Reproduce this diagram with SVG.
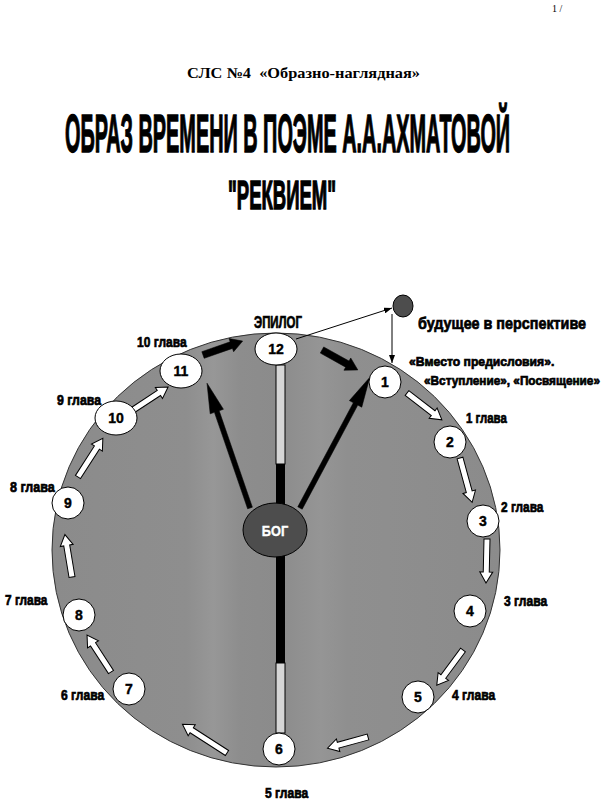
<svg xmlns="http://www.w3.org/2000/svg" width="604" height="804" viewBox="0 0 604 804">
<style>
.lbl{font-family:"Liberation Sans",Arial,sans-serif;font-weight:bold;fill:#000;stroke:#000;stroke-width:0.7}
.ttl{font-family:"Liberation Sans",Arial,sans-serif;font-weight:bold;fill:#000;stroke:#000;stroke-width:1.4}
.num{font-family:"Liberation Sans",Arial,sans-serif;font-weight:bold;font-size:14px;fill:#000;text-anchor:middle;stroke:#000;stroke-width:0.4}
.node{fill:#fff;stroke:#000;stroke-width:1}
.warr{fill:#fff;stroke:#000;stroke-width:1;stroke-linejoin:miter}
.barr{fill:#000;stroke:#000;stroke-width:0.5}
.thin{stroke:#000;stroke-width:1;fill:none}
</style>
<defs>
<linearGradient id="face" gradientUnits="userSpaceOnUse" x1="52" y1="0" x2="500" y2="0">
<stop offset="0" stop-color="#8b8b8b"/>
<stop offset="0.3" stop-color="#8e8e8e"/>
<stop offset="0.36" stop-color="#979797"/>
<stop offset="0.42" stop-color="#8d8d8d"/>
<stop offset="0.5" stop-color="#8b8b8b"/>
<stop offset="0.6" stop-color="#959595"/>
<stop offset="0.66" stop-color="#8f8f8f"/>
<stop offset="1" stop-color="#8b8b8b"/>
</linearGradient>
<marker id="ah" markerWidth="8" markerHeight="6" refX="8" refY="3" orient="auto" markerUnits="userSpaceOnUse">
<path d="M0,0 L8,3 L0,6 Z" fill="#000"/>
</marker>
</defs>
<rect x="0" y="0" width="604" height="804" fill="#fff"/>

<g id="header">
<text x="552" y="12" font-family="Liberation Serif,serif" font-size="10">1 /</text>
<text x="187" y="78" font-family="Liberation Serif,serif" font-weight="bold" font-size="15" textLength="233" lengthAdjust="spacingAndGlyphs" xml:space="preserve">СЛС №4  «Образно-наглядная»</text>
<text class="ttl" transform="translate(65,152) scale(0.37,1)" x="0" y="0" font-size="54" textLength="1203" lengthAdjust="spacingAndGlyphs">ОБРАЗ ВРЕМЕНИ В ПОЭМЕ А.А.АХМАТОВОЙ</text>
<text class="ttl" transform="translate(228,209) scale(0.45,1)" x="0" y="0" font-size="40" textLength="240" lengthAdjust="spacingAndGlyphs">"РЕКВИЕМ"</text>
</g>

<g id="clock-face">
<ellipse cx="276" cy="550" rx="224" ry="217" fill="url(#face)" stroke="#333" stroke-width="1"/>
</g>

<g id="connectors">
<rect x="276" y="365" width="9" height="99" fill="#d6d6d6" stroke="#000" stroke-width="1"/>
<rect x="276" y="464" width="9" height="199" fill="#000"/>
<rect x="276" y="663" width="9" height="70" fill="#d6d6d6" stroke="#000" stroke-width="1"/>
<path class="barr" transform="translate(250,508) rotate(-109)" d="M0,-2.5 L102,-2.5 L102,-7 L132,0 L102,7 L102,2.5 L0,2.5 Z"/>
<path class="barr" transform="translate(300,508) rotate(-61.9)" d="M0,-2.5 L118,-2.5 L118,-7 L148,0 L118,7 L118,2.5 L0,2.5 Z"/>
<path class="barr" transform="translate(203,355) rotate(-19.3)" d="M0,-3.5 L30,-3.5 L30,-7 L42,0 L30,7 L30,3.5 L0,3.5 Z"/>
<path class="barr" transform="translate(322,350) rotate(29.1)" d="M0,-3.5 L29,-3.5 L29,-7 L41,0 L29,7 L29,3.5 L0,3.5 Z"/>
<path class="warr" transform="translate(407,393) rotate(37.6)" d="M0,-3 L33,-3 L33,-6.5 L44,0 L33,6.5 L33,3 L0,3 Z"/>
<path class="warr" transform="translate(460,458) rotate(74.7)" d="M0,-3 L35,-3 L35,-6.5 L46,0 L35,6.5 L35,3 L0,3 Z"/>
<path class="warr" transform="translate(487,539) rotate(91.3)" d="M0,-3 L33,-3 L33,-6.5 L44,0 L33,6.5 L33,3 L0,3 Z"/>
<path class="warr" transform="translate(463,650) rotate(126.6)" d="M0,-3 L33,-3 L33,-6.5 L44,0 L33,6.5 L33,3 L0,3 Z"/>
<path class="warr" transform="translate(368,737) rotate(164.6)" d="M0,-3 L31,-3 L31,-6.5 L42,0 L31,6.5 L31,3 L0,3 Z"/>
<path class="warr" transform="translate(227,753) rotate(212.8)" d="M0,-3 L42,-3 L42,-6.5 L53,0 L42,6.5 L42,3 L0,3 Z"/>
<path class="warr" transform="translate(111,672) rotate(237)" d="M0,-3 L33,-3 L33,-6.5 L44,0 L33,6.5 L33,3 L0,3 Z"/>
<path class="warr" transform="translate(72,577) rotate(260.5)" d="M0,-3 L32,-3 L32,-6.5 L43,0 L32,6.5 L32,3 L0,3 Z"/>
<path class="warr" transform="translate(78,477) rotate(-57.3)" d="M0,-3 L35,-3 L35,-6.5 L46,0 L35,6.5 L35,3 L0,3 Z"/>
<path class="warr" transform="translate(133,410) rotate(-33.3)" d="M0,-3 L31,-3 L31,-6.5 L42,0 L31,6.5 L31,3 L0,3 Z"/>
<line class="thin" x1="296" y1="339" x2="392" y2="308" marker-end="url(#ah)"/>
<line class="thin" x1="392" y1="314" x2="392" y2="363" marker-end="url(#ah)"/>
</g>

<g id="node-bog">
<ellipse cx="275" cy="530" rx="32" ry="27" fill="#4d4d4d" stroke="#000" stroke-width="1"/>
<text transform="translate(275,536) scale(0.85,1)" x="0" y="0" font-family="Liberation Sans,sans-serif" font-weight="bold" font-size="15" fill="#fff" stroke="#fff" stroke-width="0.4" text-anchor="middle">БОГ</text>
</g>

<g id="node-future">
<ellipse cx="403" cy="306" rx="10" ry="11" fill="#4d4d4d" stroke="#000" stroke-width="1"/>
<text class="lbl" transform="translate(418,329) scale(0.8,1)" x="0" y="0" font-size="17" textLength="210" lengthAdjust="spacingAndGlyphs">будущее в перспективе</text>
</g>

<g id="node-12">
<ellipse class="node" cx="276" cy="349" rx="21" ry="16"/>
<text class="num" x="276" y="354">12</text>
<text class="lbl" transform="translate(254,328) scale(0.75,1)" x="0" y="0" font-size="17" textLength="64" lengthAdjust="spacingAndGlyphs">ЭПИЛОГ</text>
</g>
<g id="node-1">
<circle class="node" cx="385" cy="382" r="16"/>
<text class="num" x="385" y="387">1</text>
<text class="lbl" transform="translate(409,366) scale(0.85,1)" x="0" y="0" font-size="13" textLength="171" lengthAdjust="spacingAndGlyphs">«Вместо предисловия».</text>
<text class="lbl" transform="translate(424,385) scale(0.85,1)" x="0" y="0" font-size="13" textLength="207" lengthAdjust="spacingAndGlyphs">«Вступление», «Посвящение»</text>
</g>
<g id="node-2">
<circle class="node" cx="450" cy="442" r="16"/>
<text class="num" x="450" y="447">2</text>
<text class="lbl" transform="translate(466,423) scale(0.8,1)" x="0" y="0" font-size="15" textLength="51" lengthAdjust="spacingAndGlyphs">1 глава</text>
</g>
<g id="node-3">
<circle class="node" cx="483" cy="521" r="16"/>
<text class="num" x="483" y="526">3</text>
<text class="lbl" transform="translate(501,512) scale(0.8,1)" x="0" y="0" font-size="15" textLength="53" lengthAdjust="spacingAndGlyphs">2 глава</text>
</g>
<g id="node-4">
<circle class="node" cx="470" cy="611" r="16"/>
<text class="num" x="470" y="616">4</text>
<text class="lbl" transform="translate(504,606) scale(0.8,1)" x="0" y="0" font-size="15" textLength="54" lengthAdjust="spacingAndGlyphs">3 глава</text>
</g>
<g id="node-5">
<circle class="node" cx="418" cy="697" r="16"/>
<text class="num" x="418" y="702">5</text>
<text class="lbl" transform="translate(452,700) scale(0.8,1)" x="0" y="0" font-size="15" textLength="54" lengthAdjust="spacingAndGlyphs">4 глава</text>
</g>
<g id="node-6">
<circle class="node" cx="279" cy="749" r="16"/>
<text class="num" x="279" y="754">6</text>
<text class="lbl" transform="translate(265,798) scale(0.8,1)" x="0" y="0" font-size="15" textLength="54" lengthAdjust="spacingAndGlyphs">5 глава</text>
</g>
<g id="node-7">
<circle class="node" cx="129" cy="689" r="16"/>
<text class="num" x="129" y="694">7</text>
<text class="lbl" transform="translate(61,700) scale(0.8,1)" x="0" y="0" font-size="15" textLength="54" lengthAdjust="spacingAndGlyphs">6 глава</text>
</g>
<g id="node-8">
<circle class="node" cx="79" cy="615" r="16"/>
<text class="num" x="79" y="620">8</text>
<text class="lbl" transform="translate(5,605) scale(0.8,1)" x="0" y="0" font-size="15" textLength="53" lengthAdjust="spacingAndGlyphs">7 глава</text>
</g>
<g id="node-9">
<circle class="node" cx="68" cy="503" r="16"/>
<text class="num" x="68" y="508">9</text>
<text class="lbl" transform="translate(10,492) scale(0.8,1)" x="0" y="0" font-size="15" textLength="56" lengthAdjust="spacingAndGlyphs">8 глава</text>
</g>
<g id="node-10">
<ellipse class="node" cx="116" cy="418" rx="21" ry="17"/>
<text class="num" x="116" y="423">10</text>
<text class="lbl" transform="translate(57,405) scale(0.8,1)" x="0" y="0" font-size="15" textLength="55" lengthAdjust="spacingAndGlyphs">9 глава</text>
</g>
<g id="node-11">
<ellipse class="node" cx="181" cy="371" rx="21" ry="17"/>
<text class="num" x="181" y="376">11</text>
<text class="lbl" transform="translate(137,347) scale(0.8,1)" x="0" y="0" font-size="15" textLength="62" lengthAdjust="spacingAndGlyphs">10 глава</text>
</g>
</svg>
